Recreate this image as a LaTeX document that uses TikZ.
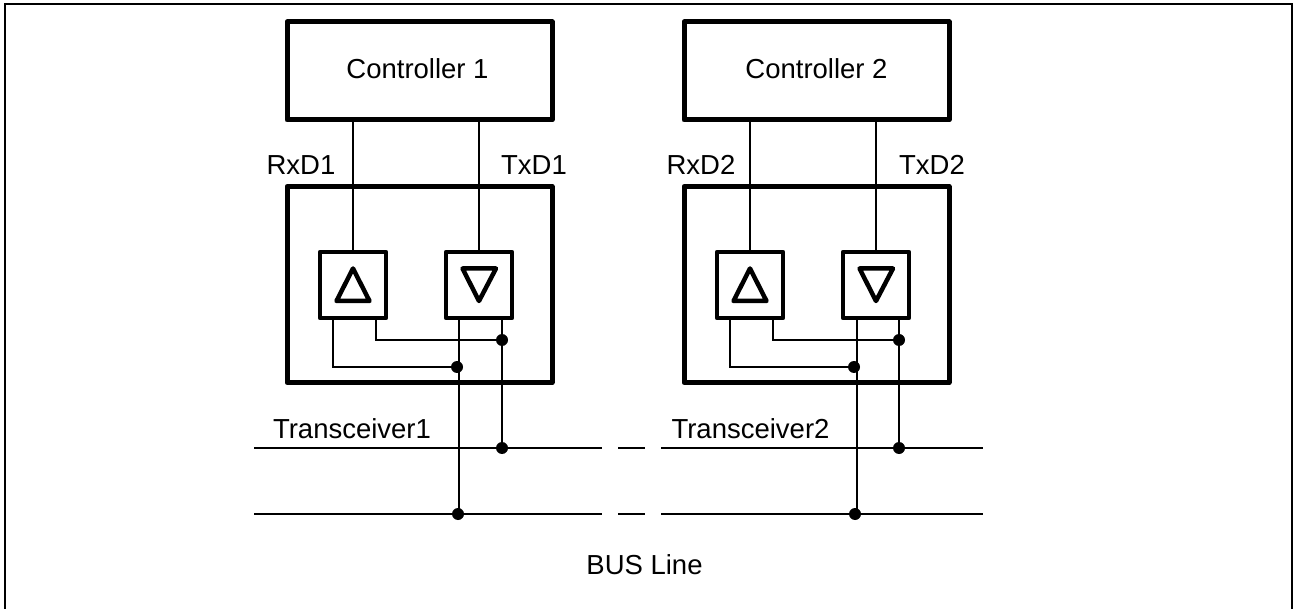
\documentclass[tikz,border=0pt]{standalone}
\usepackage{fontspec}
\setmainfont{Liberation Sans}
\usetikzlibrary{positioning}

\begin{document}
\begin{tikzpicture}[x=1pt,y=-1pt]
% Define styles for nodes and edges
\tikzstyle{bigbox} = [draw, line width=5pt, line join=round, minimum width=265pt, inner sep=0pt]
\tikzstyle{smallbox} = [draw, line width=4.5pt, line join=round, minimum width=66pt, minimum height=66pt, inner sep=0pt]
\tikzstyle{wire} = [line width=1.6pt]
\tikzstyle{triangle} = [line width=4.5pt, line join=round]
\tikzstyle{joint} = [circle, fill=black, minimum size=12pt, inner sep=0pt]
\tikzstyle{label} = [inner sep=0pt, anchor=base, font=\fontsize{27.5}{32}\selectfont]

\useasboundingbox (0,0) rectangle (1293,609);
\draw[line width=2.6pt] (5,609) -- (5,4) -- (1292,4) -- (1292,609);

% Transceiver and controller 1
\node[bigbox, minimum height=98pt] (ctrla) at (419.5,71) {};
\node[bigbox, minimum height=196pt] (transa) at (419.5,284.6) {};
\node[smallbox] (rxa) at (353,285) {};
\node[smallbox] (txa) at (479,285) {};
\draw[triangle] (336.5,301) -- (353,268.5) -- (369.5,301) -- cycle;
\draw[triangle] (462.5,268.5) -- (479,301) -- (496,268.5) -- cycle;
\node[joint] (ja) at (457,367) {};
\node[joint] (jb) at (502,340) {};
\node[joint] (jc) at (502,448) {};
\node[joint] (jd) at (458,514) {};
\coordinate (rxaa) at (333,318);
\coordinate (rxab) at (376,318);
\coordinate (txaa) at (459,318);
\coordinate (txab) at (502,318);

% Transceiver and controller 2
\node[bigbox, minimum height=98pt] (ctrlb) at (816.5,71) {};
\node[bigbox, minimum height=196pt] (transb) at (816.5,284.6) {};
\node[smallbox] (rxb) at (750,285) {};
\node[smallbox] (txb) at (876,285) {};
\draw[triangle] (733.5,301) -- (750,268.5) -- (766.5,301) -- cycle;
\draw[triangle] (859.5,268.5) -- (876,301) -- (893,268.5) -- cycle;
\node[joint] (je) at (854,367) {};
\node[joint] (jf) at (899,340) {};
\node[joint] (jg) at (899,448) {};
\node[joint] (jh) at (855,514) {};
\coordinate (rxba) at (730,318);
\coordinate (rxbb) at (773,318);
\coordinate (txba) at (857,318);
\coordinate (txbb) at (899,318);

% Labels
\node[label] (lctrla) at (417.5,79) {Controller 1};
\node[label] (lctrlb) at (816.5,79) {Controller 2};
\node[label] (lrxa) at (301,175) {RxD1};
\node[label] (ltxa) at (534,175) {TxD1};
\node[label] (lrxb) at (701,175) {RxD2};
\node[label] (ltxb) at (932,175) {TxD2};
\node[label] (ltransa) at (352,438) {Transceiver1};
\node[label] (ltransb) at (750.5,438) {Transceiver2};
\node[label] (lbus) at (644.5,574) {BUS Line};

% Edges
\draw[wire] (rxa.north |- ctrla.south) -- (rxa.north);
\draw[wire] (txa.north |- ctrla.south) -- (txa.north);
\draw[wire] (rxb.north |- ctrlb.south) -- (rxb.north);
\draw[wire] (txb.north |- ctrlb.south) -- (txb.north);
\draw[wire] (rxaa) |- (ja);
\draw[wire] (rxab) |- (jb);
\draw[wire] (txaa) -- (txaa |- jd);
\draw[wire] (txab) -- (jc);
\draw[wire] (rxba) |- (je);
\draw[wire] (rxbb) |- (jf);
\draw[wire] (txba) -- (txba |- jh);
\draw[wire] (txbb) -- (jg);

% Bus lines
\foreach \y in {448,514} {
  \coordinate (a\y) at (254,\y);
  \coordinate (b\y) at (602,\y);
  \coordinate (c\y) at (618,\y);
  \coordinate (d\y) at (645,\y);
  \coordinate (e\y) at (661,\y);
  \coordinate (f\y) at (983,\y);
  \draw[wire] (a\y) -- (b\y);
  \draw[wire] (c\y) -- (d\y);
  \draw[wire] (e\y) -- (f\y);
}
\end{tikzpicture}
\end{document}
